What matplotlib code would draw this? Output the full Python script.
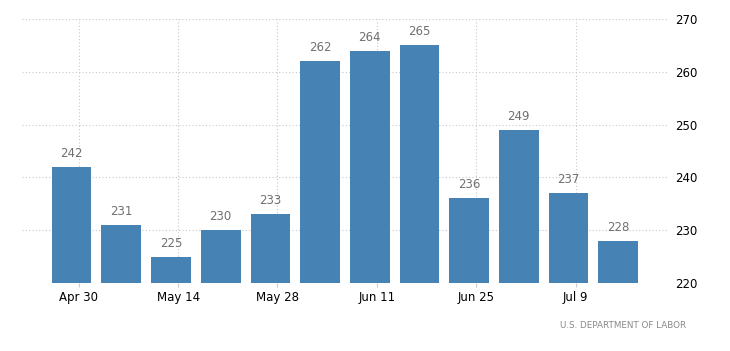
import pandas as pd
import matplotlib
matplotlib.use('Agg')
import matplotlib.pyplot as plt
import matplotlib.dates as mdates

# weekly values (week ending Saturday)
week_end = pd.date_range('2017-04-29', periods=12, freq='7D')
claims = [242, 231, 225, 230, 233, 262, 264, 265, 236, 249, 237, 228]
tick_dates = pd.date_range('2017-04-30', periods=6, freq='14D')
tick_labels = ['Apr 30', 'May 14', 'May 28', 'Jun 11', 'Jun 25', 'Jul 9']
y_ticks = [220, 230, 240, 250, 260, 270]

fig = plt.figure(figsize=(7.3, 3.51), dpi=100)
ax = fig.add_axes([0.030, 0.194, 0.885, 0.752])

bar_color = '#4682b4'
ax.bar(week_end, claims, width=5.6, color=bar_color, zorder=2)

for d, v in zip(week_end, claims):
    ax.annotate(str(v), (d, v), xytext=(0, 5), textcoords='offset points',
                ha='center', va='bottom', fontsize=8.5, color='#707070', zorder=3)

ax.set_ylim(220, 270)
ax.set_xlim(pd.Timestamp('2017-04-22'), pd.Timestamp('2017-07-22'))
ax.set_yticks(y_ticks)
ax.set_xticks(tick_dates)
ax.set_xticklabels(tick_labels)

ax.yaxis.tick_right()
ax.tick_params(axis='y', length=0, pad=5, labelsize=8.5, labelcolor='black')
ax.tick_params(axis='x', length=3, color='#cccccc', pad=3, labelsize=8.5, labelcolor='black')

for s in ax.spines.values():
    s.set_visible(False)

ax.grid(True, linestyle=(0, (1, 2)), color='#c8c8c8', linewidth=0.8, zorder=0)
ax.set_axisbelow(True)

fig.text(686 / 730, 1 - 325 / 351, 'U.S. DEPARTMENT OF LABOR', ha='right', va='center',
         fontsize=6.3, color='#888888')

fig.savefig('out.png', dpi=100)
